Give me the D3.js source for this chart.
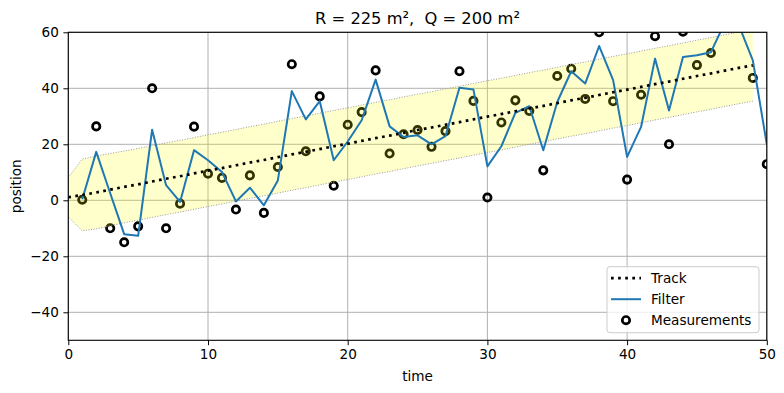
<!DOCTYPE html>
<html>
<head>
<meta charset="utf-8">
<script src="https://cdn.jsdelivr.net/npm/d3@7"></script>
<style>
  body { margin: 0; background: #fff; }
  text { font-family: "DejaVu Sans", sans-serif; white-space: pre; }
</style>
</head>
<body>
<svg width="784" height="393"></svg>
<script>
// Track (true position), t = 0..49
const trackT = d3.range(0, 50);
const track = [1.1, 1.9, 2.8, 3.8, 4.8, 5.7, 6.7, 7.7, 8.6, 9.6,
    10.6, 11.5, 12.5, 13.5, 14.4, 15.4, 16.4, 17.3, 18.3, 19.3,
    20.2, 21.2, 22.2, 23.1, 24.1, 25.1, 26.0, 27.0, 27.9, 28.9,
    29.9, 30.8, 31.8, 32.8, 33.7, 34.7, 35.7, 36.6, 37.6, 38.6,
    39.5, 40.5, 41.5, 42.4, 43.4, 44.4, 45.3, 46.3, 47.3, 48.2];
// Standard deviation of the band around the track
const trackStd = [7.0, 12.8, 13.0, 12.9, 12.8, 12.8, 12.8, 12.8, 12.8, 12.8,
    12.8, 12.8, 12.8, 12.8, 12.8, 12.8, 12.8, 12.8, 12.8, 12.8,
    12.8, 12.8, 12.8, 12.8, 12.8, 12.8, 12.8, 12.8, 12.8, 12.8,
    12.8, 12.8, 12.8, 12.8, 12.8, 12.8, 12.8, 12.8, 12.8, 12.8,
    12.8, 12.8, 12.8, 12.8, 12.8, 12.8, 12.8, 12.8, 12.8, 12.8];

// Filter output and measurements, t = 1..50
const measT = d3.range(1, 51);
const filterVals = [0.4, 17.3, 2.5, -12.1, -12.7, 25.2, 5.4, -0.6, 17.9, 14.3,
    10.1, -0.4, 4.5, -1.8, 7.1, 39.0, 28.9, 35.4, 14.3, 21.0,
    28.6, 43.1, 26.4, 22.6, 23.2, 20.0, 22.9, 40.2, 39.6, 12.1,
    19.3, 31.2, 33.6, 17.9, 35.1, 46.1, 41.7, 55.1, 42.9, 15.5,
    26.2, 50.6, 32.1, 51.2, 51.8, 52.9, 63.5, 62.5, 50.0, 20.0];
const measurements = [0.2, 26.4, -10.0, -15.0, -9.3, 40.0, -10.0, -1.2, 26.3, 9.5,
    8.0, -3.3, 8.9, -4.5, 11.9, 48.6, 17.5, 37.1, 5.2, 27.0,
    31.5, 46.4, 16.7, 23.6, 25.1, 19.1, 24.7, 46.1, 35.5, 1.0,
    27.8, 35.7, 31.9, 10.7, 44.4, 47.0, 36.2, 60.0, 35.4, 7.4,
    37.7, 58.6, 20.0, 60.2, 48.3, 52.6, 70.0, 67.0, 43.7, 12.9];

const xTicks = [0, 10, 20, 30, 40, 50];
const yTicks = [-40, -20, 0, 20, 40, 60];

const margin = { top: 32.3, right: 17.2, bottom: 52.7, left: 68.3 };
const W = 784, H = 393;
const width = W - margin.left - margin.right;
const height = H - margin.top - margin.bottom;

const svg = d3.select("svg");
const g = svg.append("g").attr("transform", `translate(${margin.left},${margin.top})`);

const x = d3.scaleLinear().domain([0, 50]).range([0, width]);
const y = d3.scaleLinear().domain([-50, 60]).range([height, 0]);

svg.append("defs").append("clipPath").attr("id", "clip")
    .append("rect").attr("width", width).attr("height", height);

// grid
g.append("g").selectAll("line").data(xTicks).join("line")
    .attr("x1", d => x(d)).attr("x2", d => x(d))
    .attr("y1", 0).attr("y2", height)
    .attr("stroke", "#b0b0b0").attr("stroke-width", 1);
g.append("g").selectAll("line").data(yTicks).join("line")
    .attr("x1", 0).attr("x2", width)
    .attr("y1", d => y(d)).attr("y2", d => y(d))
    .attr("stroke", "#b0b0b0").attr("stroke-width", 1);

const plot = g.append("g").attr("clip-path", "url(#clip)");

// measurements
plot.selectAll(".meas").data(measT).join("circle")
    .attr("class", "meas")
    .attr("cx", d => x(d))
    .attr("cy", (d, i) => y(measurements[i]))
    .attr("r", 3.7)
    .attr("fill", "none")
    .attr("stroke", "#000")
    .attr("stroke-width", 2.7);

// std band (sits over the measurements and grid)
plot.append("path")
    .datum(trackT)
    .attr("fill", "yellow")
    .attr("fill-opacity", 0.2)
    .attr("d", d3.area().x(d => x(d))
        .y0((d, i) => y(track[i] - trackStd[i]))
        .y1((d, i) => y(track[i] + trackStd[i])));
[1, -1].forEach(s => {
    plot.append("path")
        .datum(trackT)
        .attr("fill", "none")
        .attr("stroke", "#999")
        .attr("stroke-width", 1)
        .attr("stroke-dasharray", "1,1.6")
        .attr("d", d3.line().x(d => x(d)).y((d, i) => y(track[i] + s * trackStd[i])));
});

// filter
plot.append("path")
    .datum(measT)
    .attr("fill", "none")
    .attr("stroke", "#1f77b4")
    .attr("stroke-width", 2)
    .attr("stroke-linejoin", "round")
    .attr("d", d3.line().x(d => x(d)).y((d, i) => y(filterVals[i])));

// track
plot.append("path")
    .datum(trackT)
    .attr("fill", "none")
    .attr("stroke", "#000")
    .attr("stroke-width", 2.7)
    .attr("stroke-dasharray", "2.7,4.4")
    .attr("d", d3.line().x(d => x(d)).y((d, i) => y(track[i])));

// axes
const xAxis = g.append("g").attr("transform", `translate(0,${height})`)
    .call(d3.axisBottom(x).tickValues(xTicks).tickSize(4.9).tickPadding(4.5).tickFormat(d3.format("d")));
const yAxis = g.append("g")
    .call(d3.axisLeft(y).tickValues(yTicks).tickSize(4.9).tickPadding(4.5)
        .tickFormat(d => d < 0 ? "\u2212" + Math.abs(d) : d));
[xAxis, yAxis].forEach(a => {
    a.select(".domain").remove();
    a.selectAll("line").attr("stroke", "#000").attr("stroke-width", 1);
    a.selectAll("text").style("font-size", "13.6px").attr("fill", "#000");
});

// frame
g.append("rect").attr("width", width).attr("height", height)
    .attr("fill", "none").attr("stroke", "#000").attr("stroke-width", 1.1);

// titles
svg.append("text")
    .attr("x", margin.left + width / 2).attr("y", 24)
    .attr("text-anchor", "middle")
    .style("font-size", "16.3px")
    .text("R = 225 m²,  Q = 200 m²");
svg.append("text")
    .attr("x", margin.left + width / 2).attr("y", 381)
    .attr("text-anchor", "middle")
    .style("font-size", "13.6px")
    .text("time");
svg.append("text")
    .attr("transform", `translate(21,${margin.top + height / 2}) rotate(-90)`)
    .attr("text-anchor", "middle")
    .style("font-size", "13.6px")
    .text("position");

// legend
const legend = svg.append("g").attr("transform", "translate(607,266.7)");
legend.append("rect")
    .attr("width", 152).attr("height", 66)
    .attr("rx", 3).attr("ry", 3)
    .attr("fill", "#fff").attr("fill-opacity", 0.8)
    .attr("stroke", "#cccccc").attr("stroke-width", 1);
const items = ["Track", "Filter", "Measurements"];
items.forEach((name, i) => {
    const cy = 11.5 + i * 21;
    if (name === "Track") {
        legend.append("line").attr("x1", 4).attr("x2", 34).attr("y1", cy).attr("y2", cy)
            .attr("stroke", "#000").attr("stroke-width", 2.7).attr("stroke-dasharray", "2.7,4.4");
    } else if (name === "Filter") {
        legend.append("line").attr("x1", 4).attr("x2", 34).attr("y1", cy).attr("y2", cy)
            .attr("stroke", "#1f77b4").attr("stroke-width", 2);
    } else {
        legend.append("circle").attr("cx", 19).attr("cy", cy).attr("r", 3.7)
            .attr("fill", "none").attr("stroke", "#000").attr("stroke-width", 2.7);
    }
    legend.append("text").attr("x", 44).attr("y", cy + 5)
        .style("font-size", "13.6px").text(name);
});
</script>
</body>
</html>
